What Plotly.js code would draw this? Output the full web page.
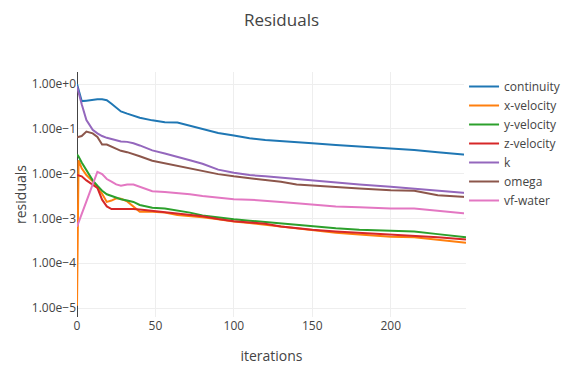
<!DOCTYPE html>
<html>
<head>
<meta charset="utf-8">
<script src="https://cdn.plot.ly/plotly-3.0.1.min.js"></script>
<style>html,body{margin:0;padding:0;background:#fff;overflow:hidden;}</style>
</head>
<body>
<div id="chart" style="width:563px;height:365px;"></div>
<script>
var iterations = [0, 1, 3, 6, 10, 13, 16, 19, 22, 25, 28, 32, 36, 40, 48, 56, 64, 72, 80, 90, 100, 110, 120, 130, 140, 150, 165, 180, 200, 215, 230, 248];

var continuity = [1.0, 0.71, 0.417, 0.427, 0.447, 0.457, 0.457, 0.437, 0.363, 0.295, 0.245, 0.219, 0.195, 0.178, 0.155, 0.141, 0.138, 0.117, 0.102, 0.0813, 0.0708, 0.0617, 0.0562, 0.0537, 0.0501, 0.0479, 0.0437, 0.0407, 0.0363, 0.0339, 0.0302, 0.0263];
var xVelocity = [1.12e-5, 0.02, 0.0132, 0.00933, 0.00676, 0.00501, 0.00355, 0.00234, 0.00251, 0.00282, 0.00275, 0.0024, 0.00182, 0.00141, 0.00141, 0.00135, 0.0012, 0.00115, 0.00107, 0.000955, 0.000851, 0.000794, 0.000724, 0.000661, 0.000589, 0.000537, 0.000479, 0.000437, 0.000389, 0.00038, 0.000339, 0.000288];
var yVelocity = [0.0269, 0.024, 0.0178, 0.012, 0.00708, 0.00537, 0.00417, 0.00347, 0.00316, 0.00288, 0.00269, 0.00251, 0.00234, 0.002, 0.00174, 0.00166, 0.00151, 0.00135, 0.00117, 0.00105, 0.000955, 0.000891, 0.000832, 0.000776, 0.000708, 0.000661, 0.000603, 0.000562, 0.000525, 0.000513, 0.000447, 0.00038];
var zVelocity = [0.00933, 0.00912, 0.00871, 0.00708, 0.00575, 0.00479, 0.00263, 0.00186, 0.00162, 0.00162, 0.00162, 0.00166, 0.00162, 0.00158, 0.00148, 0.00138, 0.00126, 0.0012, 0.00112, 0.000977, 0.000871, 0.000813, 0.000759, 0.000661, 0.000603, 0.000562, 0.000513, 0.000479, 0.000447, 0.000417, 0.00038, 0.000339];
var kRes = [0.89, 0.63, 0.355, 0.158, 0.0955, 0.0794, 0.0692, 0.0631, 0.0589, 0.055, 0.0525, 0.0513, 0.0479, 0.0427, 0.0331, 0.0282, 0.024, 0.02, 0.0166, 0.0123, 0.0105, 0.00933, 0.00871, 0.00813, 0.00759, 0.00692, 0.00631, 0.00575, 0.00513, 0.00468, 0.00427, 0.00372];
var omega = [0.0646, 0.0661, 0.0692, 0.0871, 0.0794, 0.0661, 0.0447, 0.0447, 0.0398, 0.0355, 0.0324, 0.0302, 0.0275, 0.0245, 0.0195, 0.017, 0.0151, 0.0132, 0.0115, 0.00977, 0.00871, 0.00794, 0.00741, 0.00661, 0.00575, 0.00537, 0.00501, 0.00468, 0.00427, 0.00417, 0.00331, 0.00302];
var vfWater = [0.00066, 0.00081, 0.00126, 0.0024, 0.00575, 0.011, 0.00977, 0.00759, 0.00661, 0.00575, 0.00537, 0.00575, 0.00575, 0.00513, 0.00407, 0.00389, 0.00372, 0.00347, 0.00316, 0.00288, 0.00269, 0.00263, 0.00251, 0.00234, 0.00219, 0.00204, 0.00186, 0.00178, 0.00166, 0.00166, 0.00148, 0.00129];

var seriesNames = ['continuity', 'x-velocity', 'y-velocity', 'z-velocity', 'k', 'omega', 'vf-water'];
var seriesData = [continuity, xVelocity, yVelocity, zVelocity, kRes, omega, vfWater];
var colors = ['#1f77b4', '#ff7f0e', '#2ca02c', '#d62728', '#9467bd', '#8c564b', '#e377c2'];

var traces = seriesNames.map(function (n, i) {
  return {
    x: iterations, y: seriesData[i], name: n, type: 'scatter', mode: 'lines',
    line: {color: colors[i], width: 2}
  };
});

var layout = {
  width: 563, height: 365,
  margin: {l: 77, r: 97, t: 72, b: 48, autoexpand: false},
  paper_bgcolor: '#fff', plot_bgcolor: '#fff',
  font: {family: '"Open Sans", verdana, arial, sans-serif', size: 12, color: '#444'},
  title: {text: 'Residuals', font: {size: 17}, x: 0.5, xanchor: 'center', yref: 'container', y: 0.945, yanchor: 'middle'},
  xaxis: {
    title: {text: 'iterations', font: {size: 14}, standoff: 24},
    range: [0, 248], tickvals: [0, 50, 100, 150, 200],
    gridcolor: '#eee', zeroline: true, zerolinecolor: '#444', zerolinewidth: 1
  },
  yaxis: {
    title: {text: 'residuals', font: {size: 14}},
    type: 'log', range: [-5.2, 0.27], dtick: 1, tickformat: '.2e',
    gridcolor: '#eee'
  },
  legend: {x: 0.995, y: 1, yanchor: 'top', font: {size: 12}},
  showlegend: true
};

Plotly.newPlot('chart', traces, layout, {displayModeBar: false, staticPlot: true});
</script>
</body>
</html>
